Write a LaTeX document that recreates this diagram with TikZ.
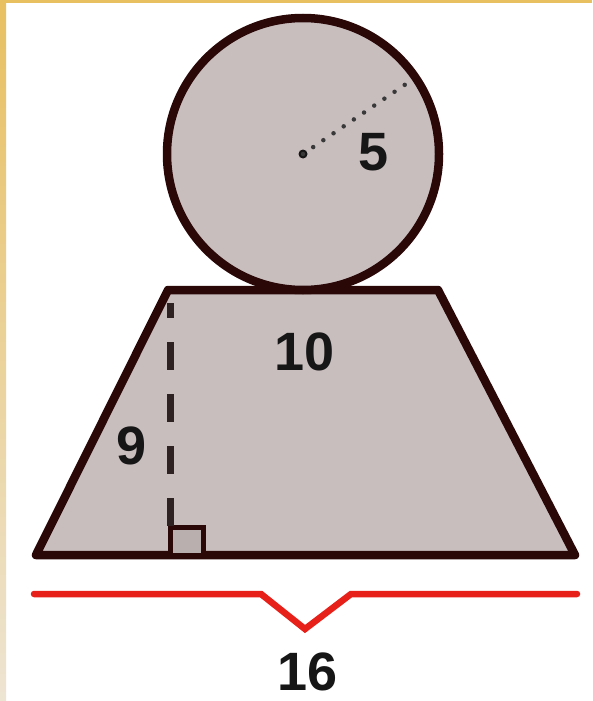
\documentclass[tikz,border=0pt]{standalone}
\usepackage{fontspec}
\setmainfont{Liberation Sans}
\definecolor{fillc}{HTML}{C9BEBE}
\definecolor{strokec}{HTML}{2A0808}
\definecolor{redc}{HTML}{E8201A}
\definecolor{goldc}{HTML}{E8C060}
\definecolor{palec}{HTML}{EDE4D2}
\definecolor{textc}{HTML}{161616}
\definecolor{dashc}{HTML}{2E2222}
\begin{document}
\begin{tikzpicture}[x=1pt,y=-1pt,
  shapeline/.style={draw=strokec,line width=8.5pt,fill=fillc,line join=round},
  lbl/.style={text=textc,font=\fontsize{54}{54}\selectfont\bfseries,inner sep=0pt}]
\useasboundingbox[fill=white] (0,0) rectangle (592,701);
% border
\shade[top color=goldc,bottom color=palec] (0,0) rectangle (6,701);
\fill[goldc] (0,0) rectangle (592,3);
% trapezoid
\coordinate (tl) at (168,290);
\coordinate (tr) at (438,290);
\coordinate (br) at (575,555);
\coordinate (bl) at (36,555);
\draw[shapeline] (bl) -- (tl) -- (tr) -- (br) -- cycle;
% circle
\coordinate (c) at (303,154);
\draw[shapeline] (c) circle[radius=136];
% height
\coordinate (ht) at (170,303);
\coordinate (hb) at (170,527);
\draw[draw=strokec,line width=5pt,fill=fillc!92!black] (170,555) rectangle (203,527);
\draw[draw=dashc,line width=7pt,dash pattern=on 28pt off 24pt,dash phase=13pt] (ht) -- (hb);
% radius
\coordinate (re) at (406,84);
\fill[textc] (c) circle[radius=4.5];
\draw[textc!85!white,line width=4.5pt,line cap=round,dash pattern=on 0pt off 12.3pt] (c) -- (re);
% labels
\node[lbl] (l5) at (374,152) {5};
\node[lbl] (l10) at (305,352) {10};
\node[lbl] (l9) at (132,446) {9};
\node[lbl] (l16) at (308,672) {16};
% brace
\coordinate (b1) at (34,594);
\coordinate (b2) at (261,594);
\coordinate (b3) at (305,629);
\coordinate (b4) at (351,594);
\coordinate (b5) at (577,594);
\draw[redc,line width=6.5pt,line cap=round,line join=miter] (b1) -- (b2) -- (b3) -- (b4) -- (b5);
\end{tikzpicture}
\end{document}
